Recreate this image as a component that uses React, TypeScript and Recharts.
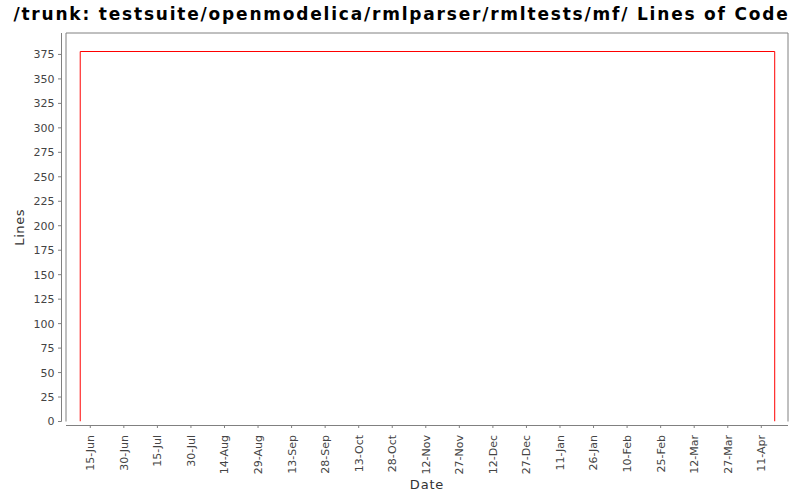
import React from 'react';
import { LineChart, Line, XAxis, YAxis, ReferenceLine, Label } from 'recharts';

// lines-of-code history: jumps to 378 on the first commit, stays flat, back to 0 at the end
const locDates = ['2010-06-10T12:00:00Z', '2010-06-10T12:00:00Z', '2011-04-17T00:00:00Z', '2011-04-17T00:00:00Z'];
const locLines = [0, 378, 378, 0];

const tickDates = [
  '2010-06-15', '2010-06-30', '2010-07-15', '2010-07-30', '2010-08-14', '2010-08-29',
  '2010-09-13', '2010-09-28', '2010-10-13', '2010-10-28', '2010-11-12', '2010-11-27',
  '2010-12-12', '2010-12-27', '2011-01-11', '2011-01-26', '2011-02-10', '2011-02-25',
  '2011-03-12', '2011-03-27', '2011-04-11',
];
const yTicks = [0, 25, 50, 75, 100, 125, 150, 175, 200, 225, 250, 275, 300, 325, 350, 375];
const monthNames = ['Jan', 'Feb', 'Mar', 'Apr', 'May', 'Jun', 'Jul', 'Aug', 'Sep', 'Oct', 'Nov', 'Dec'];

const FONT = '"DejaVu Sans", Verdana, sans-serif';
const AXIS = '#808080';

const dayOf = (iso: string) => Date.parse(iso) / 86400000;

const data = locDates.map((d, i) => ({ day: dayOf(d), lines: locLines[i] }));
const xDomain = [dayOf('2010-06-15') - 10.86, dayOf('2011-04-11') + 11.94];
const yDomain = [0, 396.9];

const fmtDay = (day: number) => {
  const d = new Date(Math.round(day) * 86400000);
  return `${d.getUTCDate()}-${monthNames[d.getUTCMonth()]}`;
};

const YTick = (props: any) => {
  const { x, y, payload } = props;
  return (
    <g>
      <line x1={x - 8} x2={x - 4.5} y1={y} y2={y} stroke={AXIS} />
      <text x={x - 11.5} y={y} dy="0.36em" textAnchor="end" fontSize={11} fill="#444" fontFamily={FONT}>
        {payload.value}
      </text>
    </g>
  );
};

const XTick = (props: any) => {
  const { x, y, payload } = props;
  const ty = y + 13.5;
  return (
    <g>
      <line x1={x} x2={x} y1={y + 4} y2={y + 6.5} stroke={AXIS} />
      <text
        x={x}
        y={ty}
        dy="0.36em"
        transform={`rotate(-90, ${x}, ${ty})`}
        textAnchor="end"
        fontSize={11}
        fill="#444"
        fontFamily={FONT}
      >
        {fmtDay(payload.value)}
      </text>
    </g>
  );
};

const YAxisDecor = (props: any) => {
  const vb = props.viewBox;
  const ax = vb.x + vb.width - 4.5;
  const cy = vb.y + vb.height / 2;
  return (
    <g>
      <line x1={ax} x2={ax} y1={vb.y} y2={vb.y + vb.height} stroke={AXIS} />
      <text
        x={19}
        y={cy}
        dy="0.36em"
        transform={`rotate(-90, 19, ${cy})`}
        textAnchor="middle"
        fontSize={13}
        letterSpacing={0.6}
        fill="#333"
        fontFamily={FONT}
      >
        Lines
      </text>
    </g>
  );
};

const XAxisDecor = (props: any) => {
  const vb = props.viewBox;
  const ay = vb.y + 4;
  return (
    <g>
      <line x1={vb.x} x2={vb.x + vb.width} y1={ay} y2={ay} stroke={AXIS} />
      <text
        x={vb.x + vb.width / 2}
        y={489}
        textAnchor="middle"
        fontSize={13}
        letterSpacing={0.8}
        fill="#333"
        fontFamily={FONT}
      >
        Date
      </text>
    </g>
  );
};

export default function App() {
  return (
    <div style={{ position: 'absolute', left: 0, top: 0, width: 800, height: 500, background: '#fff' }}>
      <div
        style={{
          position: 'absolute',
          top: 4,
          left: 0,
          width: 803,
          textAlign: 'center',
          fontFamily: FONT,
          fontWeight: 'bold',
          fontSize: 17,
          letterSpacing: 1.8,
          lineHeight: '20px',
          color: '#000',
          whiteSpace: 'nowrap',
        }}
      >
        /trunk: testsuite/openmodelica/rmlparser/rmltests/mf/ Lines of Code
      </div>
      <LineChart width={800} height={500} data={data} margin={{ top: 33, right: 12, bottom: 0, left: 0 }}>
        <XAxis
          dataKey="day"
          type="number"
          domain={xDomain}
          allowDataOverflow
          ticks={tickDates.map(dayOf)}
          interval={0}
          height={78.5}
          axisLine={false}
          tickLine={false}
          tickSize={0}
          tickMargin={0}
          tick={<XTick />}
        >
          <Label content={<XAxisDecor />} />
        </XAxis>
        <YAxis
          type="number"
          domain={yDomain}
          allowDataOverflow
          ticks={yTicks}
          interval={0}
          width={66}
          axisLine={false}
          tickLine={false}
          tickSize={0}
          tickMargin={0}
          tick={<YTick />}
        >
          <Label content={<YAxisDecor />} />
        </YAxis>
        <ReferenceLine x={xDomain[0]} stroke={AXIS} />
        <ReferenceLine x={xDomain[1]} stroke={AXIS} />
        <ReferenceLine y={yDomain[1]} stroke={AXIS} />
        <Line
          type="linear"
          dataKey="lines"
          stroke="#ff0000"
          strokeWidth={1}
          dot={false}
          activeDot={false}
          isAnimationActive={false}
        />
      </LineChart>
    </div>
  );
}
